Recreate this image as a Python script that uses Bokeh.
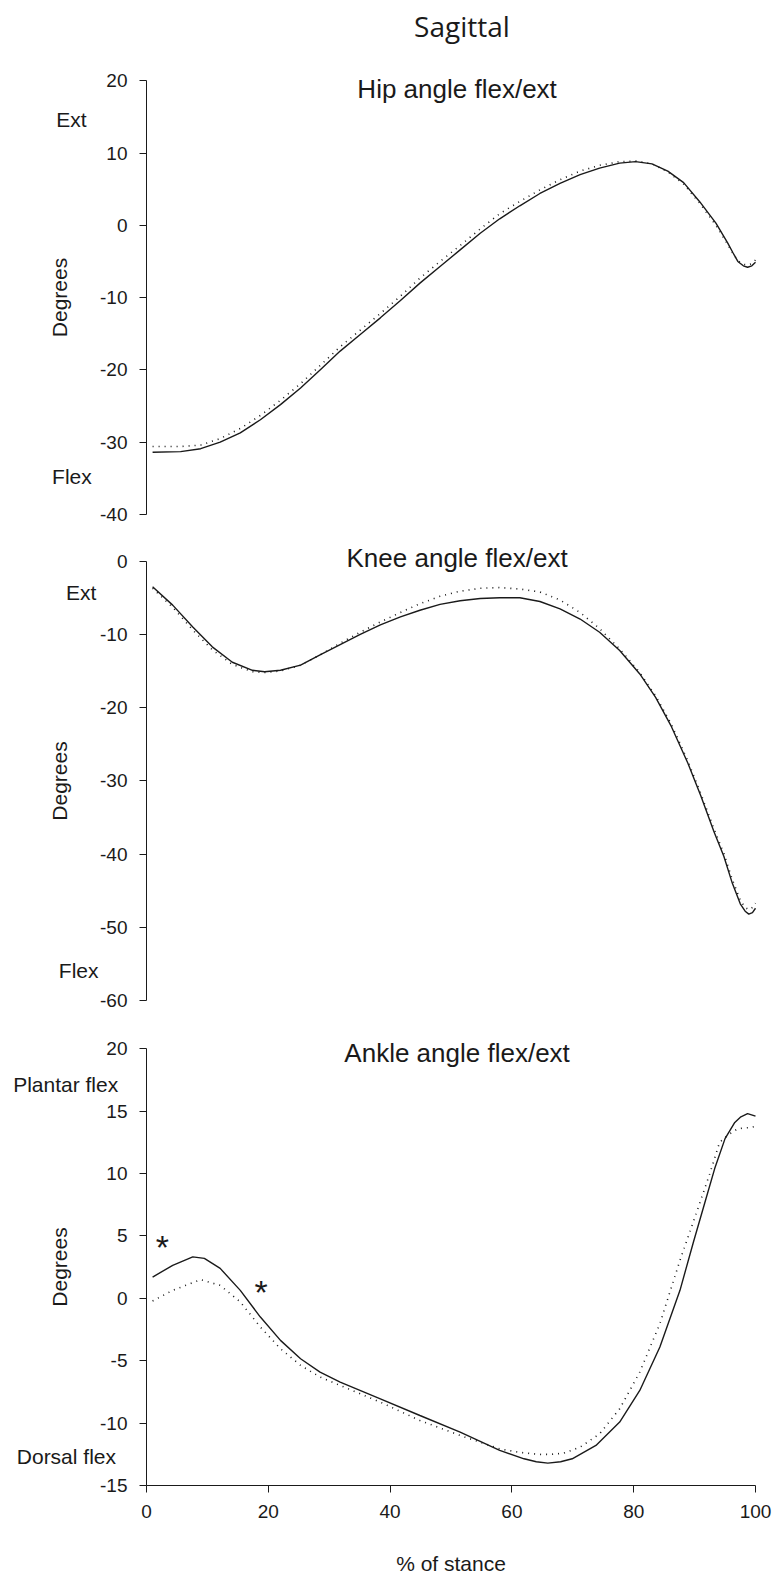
from bokeh.plotting import figure
from bokeh.layouts import column
from bokeh.models import Label, FixedTicker, Range1d, LinearAxis
from bokeh.core.properties import value
from bokeh.embed import file_html
from bokeh.resources import INLINE

# ---------------- data ----------------
hip_x = [1.0, 5.6, 8.9, 12.1, 15.4, 18.7, 22.0, 25.3, 28.5, 31.8, 35.1, 38.4, 41.7, 44.9,
         48.2, 51.5, 54.8, 58.0, 61.3, 64.6, 67.9, 71.2, 74.4, 77.7, 80.3, 83.0, 85.6,
         88.2, 90.8, 93.5, 95.4, 96.3, 97.1, 98.0, 98.7, 99.4, 100.0]
hip_solid = [-31.4, -31.3, -30.9, -30.0, -28.7, -26.9, -24.8, -22.5, -20.0, -17.4, -15.1,
             -12.8, -10.4, -8.0, -5.7, -3.4, -1.1, 0.9, 2.7, 4.4, 5.8, 7.0, 7.9, 8.6, 8.8,
             8.5, 7.5, 5.9, 3.3, 0.3, -2.4, -3.8, -5.0, -5.6, -5.8, -5.6, -5.1]
hip_dotted = [-30.6, -30.6, -30.4, -29.5, -28.1, -26.3, -24.2, -21.9, -19.4, -16.8, -14.5,
              -12.2, -9.8, -7.3, -5.0, -2.8, -0.5, 1.6, 3.3, 4.9, 6.3, 7.5, 8.3, 8.8, 8.9,
              8.5, 7.4, 5.7, 3.1, 0.0, -2.6, -3.9, -4.9, -5.4, -5.5, -5.3, -4.8]

knee_x = [1.0, 4.3, 7.6, 10.8, 14.1, 17.4, 19.4, 22.0, 25.3, 28.5, 31.8, 35.1, 38.4, 41.7,
          44.9, 48.2, 51.5, 54.8, 58.0, 61.3, 64.6, 67.9, 71.2, 74.4, 77.7, 81.0, 83.6,
          86.2, 88.9, 91.0, 93.2, 94.8, 96.2, 97.5, 98.3, 98.9, 99.5, 100.0]
knee_solid = [-3.5, -6.0, -9.0, -11.7, -13.8, -14.9, -15.1, -14.9, -14.2, -12.8, -11.4,
              -10.0, -8.7, -7.6, -6.7, -5.9, -5.4, -5.1, -5.0, -5.0, -5.5, -6.5, -7.9,
              -9.7, -12.2, -15.4, -18.6, -22.6, -27.6, -32.0, -37.0, -40.3, -44.0, -46.8,
              -47.8, -48.2, -48.0, -47.4]
knee_dotted = [-3.7, -6.3, -9.4, -12.1, -14.1, -15.1, -15.2, -15.0, -14.2, -12.8, -11.2,
               -9.7, -8.3, -7.0, -5.8, -4.8, -4.1, -3.7, -3.6, -3.8, -4.2, -5.3, -7.0,
               -9.2, -12.0, -15.2, -18.4, -22.3, -27.3, -31.7, -36.6, -39.9, -43.5, -46.3,
               -47.3, -47.6, -47.3, -46.7]

ankle_x_solid = [1.0, 4.3, 7.6, 9.5, 12.1, 15.4, 18.7, 22.0, 25.3, 28.5, 31.8, 38.4, 44.9,
                 51.5, 58.0, 62.0, 64.0, 65.9, 68.0, 69.9, 73.8, 77.7, 81.0, 84.3, 87.6,
                 89.8, 91.7, 93.3, 95.0, 96.6, 97.6, 98.7, 100.0]
ankle_solid = [1.7, 2.65, 3.32, 3.2, 2.4, 0.64, -1.5, -3.37, -4.84, -5.91, -6.71, -8.05,
               -9.39, -10.72, -12.19, -12.86, -13.1, -13.21, -13.1, -12.86, -11.79, -9.92,
               -7.38, -3.9, 0.64, 4.5, 7.7, 10.4, 12.8, 14.1, 14.55, 14.8, 14.6]
ankle_x_dotted = [1.0, 4.3, 8.9, 12.1, 15.4, 18.7, 22.0, 25.3, 28.5, 31.8, 38.4, 44.9, 51.5,
                  58.0, 61.3, 64.6, 66.5, 68.5, 71.2, 74.4, 77.7, 81.0, 84.3, 87.6, 90.9,
                  92.5, 94.1, 95.5, 97.1, 99.3, 100.0]
ankle_dotted = [-0.21, 0.64, 1.5, 1.04, -0.29, -2.3, -4.04, -5.37, -6.31, -6.98, -8.32,
                -9.79, -10.99, -12.06, -12.35, -12.51, -12.5, -12.41, -11.93, -10.86, -8.85,
                -5.91, -2.03, 3.05, 7.7, 10.0, 12.5, 13.1, 13.6, 13.7, 13.8]

star_x = [2.6, 18.8]
star_y = [4.6, 1.0]
star_text = ["*", "*"]

hip_ticks = [-40, -30, -20, -10, 0, 10, 20]
knee_ticks = [-60, -50, -40, -30, -20, -10, 0]
ankle_ticks = [-15, -10, -5, 0, 5, 10, 15, 20]
x_ticks = [0, 20, 40, 60, 80, 100]
x_tick_labels = ["0", "20", "40", "60", "80", "100"]

FONT = "Liberation Sans"
INK = "#1a1a1a"
W = 773


def lin(v_a, px_a, v_b, px_b, px):
    return v_a + (px - px_a) * (v_b - v_a) / (px_b - px_a)


# x: value 0 sits at page x=146, value 100 at page x=755
X_RANGE = (lin(0, 146, 100, 755, 0), lin(0, 146, 100, 755, W))


def make_fig(top_px, bot_px, v_top, px_top, v_bot, px_bot, ticks, with_x):
    h = bot_px - top_px
    y_start = lin(v_top, px_top, v_bot, px_bot, bot_px)
    y_end = lin(v_top, px_top, v_bot, px_bot, top_px)
    p = figure(width=W, height=h, output_backend="svg", toolbar_location=None,
               x_range=Range1d(X_RANGE[0], X_RANGE[1]), y_range=Range1d(y_start, y_end),
               x_axis_location=None, y_axis_location=None, min_border=0)
    p.outline_line_color = None
    p.xgrid.visible = False
    p.ygrid.visible = False
    p.background_fill_color = "white"
    p.border_fill_color = "white"

    ya = LinearAxis(fixed_location=0, bounds=(min(ticks), max(ticks)))
    ya.ticker = FixedTicker(ticks=ticks)
    ya.major_label_overrides = {t: str(t) for t in ticks}
    ya.minor_tick_line_color = None
    ya.major_tick_in = 0
    ya.major_tick_out = 7
    ya.major_label_standoff = 12
    ya.axis_line_color = INK
    ya.major_tick_line_color = INK
    ya.major_label_text_font = FONT
    ya.major_label_text_font_size = "19px"
    ya.major_label_text_color = INK
    ya.axis_label = "Degrees"
    ya.axis_label_text_font = FONT
    ya.axis_label_text_font_size = "21px"
    ya.axis_label_text_font_style = "normal"
    ya.axis_label_text_color = INK
    ya.axis_label_standoff = 26
    p.add_layout(ya, "left")

    if with_x:
        xa = LinearAxis(fixed_location=min(ticks), bounds=(min(x_ticks), max(x_ticks)))
        xa.ticker = FixedTicker(ticks=x_ticks)
        xa.major_label_overrides = dict(zip(x_ticks, x_tick_labels))
        xa.minor_tick_line_color = None
        xa.major_tick_in = 0
        xa.major_tick_out = 7
        xa.major_label_standoff = 12
        xa.axis_line_color = INK
        xa.major_tick_line_color = INK
        xa.major_label_text_font = FONT
        xa.major_label_text_font_size = "19px"
        xa.major_label_text_color = INK
        xa.axis_label = "% of stance"
        xa.axis_label_text_font = FONT
        xa.axis_label_text_font_size = "21px"
        xa.axis_label_text_font_style = "normal"
        xa.axis_label_text_color = INK
        xa.axis_label_standoff = 31
        p.add_layout(xa, "below")
    return p


def side_label(p, x, y, text, size="21px", font=FONT, align="left"):
    p.add_layout(Label(x=x, y=y, text=text, text_font=font, text_font_size=size,
                       text_color=INK, text_align=align, text_baseline="middle"))


# ---------------- hip ----------------
hip = make_fig(0, 530, 20, 80.2, -40, 514.0, hip_ticks, False)
hip.line(hip_x, hip_solid, line_color=INK, line_width=1.4)
hip.line(hip_x, hip_dotted, line_color=INK, line_width=1.6, line_dash="1 5")
side_label(hip, 51.8, 27.6, "Sagittal", size="28px", font="Open Sans", align="center")
side_label(hip, 51.0, 18.9, "Hip angle flex/ext", size="26px", align="center")
side_label(hip, -14.8, 14.6, "Ext")
side_label(hip, -15.5, -34.7, "Flex")

# ---------------- knee ----------------
knee = make_fig(530, 1020, 0, 560.7, -60, 1000.0, knee_ticks, False)
knee.line(knee_x, knee_solid, line_color=INK, line_width=1.4)
knee.line(knee_x, knee_dotted, line_color=INK, line_width=1.6, line_dash="1 5")
side_label(knee, 51.0, 0.4, "Knee angle flex/ext", size="26px", align="center")
side_label(knee, -13.2, -4.3, "Ext")
side_label(knee, -14.4, -55.9, "Flex")

# ---------------- ankle ----------------
ankle = make_fig(1020, 1576, 20, 1048.3, -15, 1485.0, ankle_ticks, True)
ankle.line(ankle_x_solid, ankle_solid, line_color=INK, line_width=1.4)
ankle.line(ankle_x_dotted, ankle_dotted, line_color=INK, line_width=1.6, line_dash="1 5")
ankle.text(x=star_x, y=star_y, text=star_text, text_font=value(FONT),
           text_font_size="34px", text_color=INK, text_align="center",
           text_baseline="alphabetic", y_offset=6)
side_label(ankle, 51.0, 19.7, "Ankle angle flex/ext", size="26px", align="center")
side_label(ankle, -21.9, 17.14, "Plantar flex")
side_label(ankle, -21.3, -12.7, "Dorsal flex")

layout = column(hip, knee, ankle, spacing=0)

with open("out.html", "w") as f:
    f.write(file_html(layout, INLINE))
